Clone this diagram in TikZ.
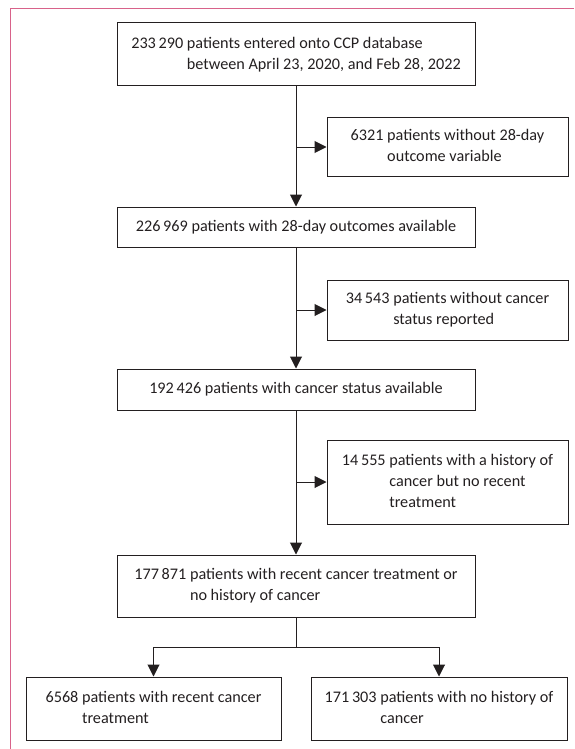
\documentclass[tikz,border=0pt]{standalone}
\usepackage{fontspec}
\setmainfont{Carlito}
\usetikzlibrary{arrows.meta}
\definecolor{framepink}{RGB}{216,98,138}
\definecolor{boxline}{RGB}{35,31,32}
\begin{document}
\begin{tikzpicture}[x=1pt,y=-1pt,
  box/.style={draw=boxline,line width=1pt,inner sep=0pt,align=center,text=boxline,
    font=\fontsize{16.2}{21}\selectfont},
  arr/.style={draw=boxline,line width=1pt,-{Triangle[width=12pt,length=12pt]}},
  ln/.style={draw=boxline,line width=1pt},
  frame/.style={draw=framepink,line width=1.2pt}]
\useasboundingbox (0,0) rectangle (574,749);
\draw[frame] (574,8.5) -- (10.8,8.5) -- (10.8,749);

\node[box,minimum width=358pt,minimum height=63pt] (b1) at (296,54.5)
  {\begin{tabular}{@{}l@{\ }l@{}}233\,290 & patients entered onto CCP database\\ & between April 23, 2020, and Feb 28, 2022\end{tabular}};
\node[box,minimum width=241pt,minimum height=58pt] (s1) at (447.5,147)
  {\begin{tabular}{@{}l@{\ }l@{}}6321 & patients without 28-day\\ & outcome variable\end{tabular}};
\node[box,minimum width=358pt,minimum height=40pt] (b2) at (296,227)
  {226\,969 patients with 28-day outcomes available};
\node[box,minimum width=241pt,minimum height=60pt] (s2) at (447.5,310)
  {\begin{tabular}{@{}l@{\ }l@{}}34\,543 & patients without cancer\\ & status reported\end{tabular}};
\node[box,minimum width=358pt,minimum height=41pt] (b3) at (296,389.5)
  {192\,426 patients with cancer status available};
\node[box,minimum width=241pt,minimum height=84pt] (s3) at (447.5,482)
  {\begin{tabular}{@{}l@{\ }l@{}}14\,555 & patients with a history of\\ & cancer but no recent\\ & treatment\end{tabular}};
\node[box,minimum width=358pt,minimum height=62pt] (b4) at (296,586)
  {\begin{tabular}{@{}l@{\ }l@{}}177\,871 & patients with recent cancer treatment or\\ & no history of cancer\end{tabular}};
\node[box,minimum width=255pt,minimum height=63pt] (l1) at (153.5,708.5)
  {\begin{tabular}{@{}l@{\ }l@{}}6568 & patients with recent cancer\\ & treatment\end{tabular}};
\node[box,minimum width=256pt,minimum height=63pt] (r1) at (439,708.5)
  {\begin{tabular}{@{}l@{\ }l@{}}171\,303 & patients with no history of\\ & cancer\end{tabular}};

\coordinate (j1) at (296,147);
\coordinate (j2) at (296,310);
\coordinate (j3) at (296,482);
\coordinate (sp) at (296,647);
\coordinate (spl) at (153.5,647);
\coordinate (spr) at (439,647);

\draw[arr] (b1.south) -- (b2.north);
\draw[arr] (j1) -- (s1.west);
\draw[arr] (b2.south) -- (b3.north);
\draw[arr] (j2) -- (s2.west);
\draw[arr] (b3.south) -- (b4.north);
\draw[arr] (j3) -- (s3.west);
\draw[ln] (b4.south) -- (sp);
\draw[ln] (spl) -- (spr);
\draw[arr] (spl) -- (l1.north);
\draw[arr] (spr) -- (r1.north);
\end{tikzpicture}
\end{document}
